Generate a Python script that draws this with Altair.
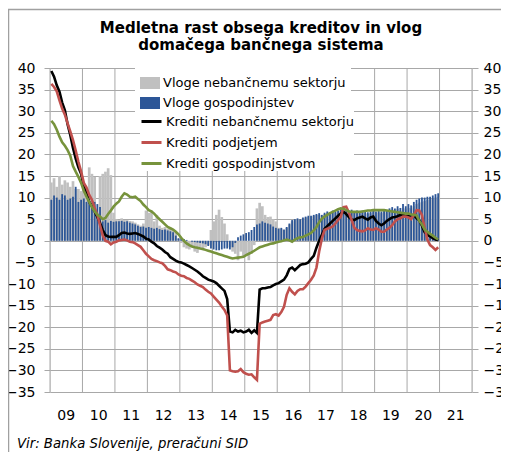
import altair as alt
import pandas as pd

# ---------------- data ----------------
title_lines = ["Medletna rast obsega kreditov in vlog", "domačega bančnega sistema"]
footer = "Vir: Banka Slovenije, preračuni SID"
start_year = 2009
year_labels = ["09", "10", "11", "12", "13", "14", "15", "16", "17", "18", "19", "20", "21"]
y_ticks = [-35, -30, -25, -20, -15, -10, -5, 0, 5, 10, 15, 20, 25, 30, 35, 40]

bar_names = ["Vloge nebančnemu sektorju", "Vloge gospodinjstev"]
line_names = ["Krediti nebančnemu sektorju", "Krediti podjetjem", "Krediti gospodinjstvom"]

# monthly, Jan 2009 - Dec 2020
vloge_nebancni = [
    13.5, 14.5, 12.5, 15.0, 13.0, 14.0, 13.5, 12.5, 13.8, 12.0, 12.0, 11.5,
    11.8, 12.0, 17.0, 15.5, 14.8, 6.5, 15.0, 15.5, 16.0, 16.8, 15.2, 6.5,
    5.0, 4.8, 5.2, 4.8, 4.8, 4.6, 4.5, 4.2, 3.8, 3.5, 4.0, 7.0,
    6.5, 7.0, 4.5, 6.0, 3.5, 3.0, 3.2, 2.8, 3.0, 2.5, 2.0, 0.5,
    -0.5, -1.5, -1.8, -2.0, -1.5, -2.5, -2.8, -1.8, -2.2, -1.5, -1.0, 2.5,
    4.5, 6.0, 7.2, 5.5, 4.0, 1.5, -1.5, -2.5, -3.0, -4.5, -2.5, -3.8,
    -3.5, -4.5, -3.0, -1.0, 7.5, 8.8, 8.0, 6.0, 5.5, 5.6, 5.0, 4.5,
    3.0, 2.8, 2.5, 3.0, 3.8, 4.5, 4.8, 5.0, 4.8, 5.2, 5.4, 5.5,
    5.5, 5.8, 6.0, 6.0, 5.8, 6.2, 6.5, 6.3, 6.6, 6.5, 6.8, 7.0,
    7.0, 6.8, 6.6, 6.8, 6.5, 6.6, 6.3, 6.6, 6.4, 6.2, 6.4, 6.6,
    6.4, 6.6, 6.4, 6.8, 6.6, 7.0, 7.2, 7.0, 7.4, 7.0, 7.6, 7.4,
    7.6, 7.5, 8.0, 8.5, 8.8, 9.0, 9.2, 9.5, 9.6, 9.8, 10.0, 10.2,
]
vloge_gospodinjstev = [
    9.5, 10.5, 10.0, 9.5, 10.8, 10.5, 9.5, 9.8, 10.2, 12.5, 9.0, 9.5,
    9.8, 9.0, 9.2, 8.8, 9.0, 8.5, 7.8, 4.5, 4.8, 4.2, 4.6, 4.4,
    4.5, 4.5, 4.6, 4.4, 4.5, 4.2, 4.0, 3.8, 3.5, 3.2, 3.3, 3.0,
    3.2, 3.0, 2.8, 3.0, 2.7, 2.5, 2.6, 2.4, 2.2, 2.0, 1.2, 0.6,
    0.6, 0.4, 0.2, 0.0, -0.2, -0.3, -0.4, -0.5, -0.6, -0.8, -1.2, -1.8,
    -2.0, -2.2, -2.2, -2.0, -1.8, -1.8, -2.0, -1.5, -0.5, 0.8, 1.2, 1.5,
    1.8, 2.0, 2.5, 3.2, 3.8, 4.0, 4.5, 4.2, 4.0, 3.8, 3.3, 3.0,
    2.8, 3.0, 2.6, 3.2, 4.0, 4.8, 5.0, 5.2, 5.0, 5.4, 5.6, 5.8,
    5.8, 6.0, 6.2, 6.4, 6.0, 6.5, 6.8, 6.6, 7.0, 6.8, 7.0, 7.2,
    7.5, 7.2, 7.0, 7.2, 6.8, 7.0, 6.6, 7.0, 6.8, 6.6, 6.8, 7.0,
    6.8, 7.0, 6.8, 7.2, 7.0, 7.5, 7.8, 7.5, 8.0, 7.6, 8.5, 8.0,
    8.5, 8.2, 9.0, 9.5, 9.8, 10.0, 10.0, 10.2, 10.2, 10.5, 10.8, 11.0,
]
krediti_nebancni = [
    39.3, 38.0, 36.0, 34.5, 32.0, 30.2, 27.0, 24.5, 21.5, 19.0, 17.0, 15.5,
    12.5, 11.0, 9.0, 8.0, 6.8, 5.5, 4.1, 2.5, 1.3, 1.0, 0.9, 0.9,
    0.9, 1.3, 1.8, 1.9, 1.7, 1.6, 1.7, 1.8, 1.6, 1.3, 1.0, 0.5,
    0.3, -0.2, -0.6, -1.2, -1.6, -2.0, -2.6, -3.0, -3.8, -4.2, -4.6, -4.9,
    -5.0, -5.3, -5.6, -5.9, -6.3, -6.7, -7.1, -7.6, -8.2, -8.6, -9.0, -9.2,
    -9.4, -9.8, -10.4, -11.0, -11.6, -13.5, -21.0, -21.2, -20.6, -21.0, -20.8, -21.2,
    -21.0, -20.6, -21.3, -20.7, -21.3, -11.3, -11.0, -11.0, -10.8, -10.7, -10.3, -10.0,
    -9.8, -9.4, -9.0, -8.0, -6.5, -6.2, -6.8, -6.2, -5.6, -5.4, -5.3, -5.0,
    -4.2, -3.5, -1.6, 0.0, 1.4, 2.8, 3.4, 4.0, 4.6, 5.2, 5.8, 6.3,
    6.7, 6.2, 5.5, 4.9, 4.8, 5.2, 5.4, 5.6, 5.2, 4.9, 5.4, 5.6,
    4.6, 4.0, 3.6, 4.0, 4.6, 5.0, 5.4, 5.5, 5.7, 6.0, 6.0, 5.7,
    5.8, 5.9, 6.0, 5.2, 4.8, 3.5, 2.0, 1.4, 1.0, 0.6, 0.3, 0.2,
]
krediti_podjetjem = [
    36.3, 35.6, 34.6, 32.5, 30.6, 29.2, 27.2, 25.3, 23.3, 20.9, 18.3, 16.0,
    13.4, 12.3, 10.6, 9.5, 7.6, 6.0, 3.6, 1.2, 0.0, -0.2, -0.8, -0.4,
    -0.2, 0.1, 0.2, 0.3, 0.1, -0.2, -0.3, -0.6, -1.0, -1.4, -2.2, -3.0,
    -3.6, -4.2, -4.5, -4.7, -5.0, -5.2, -5.8, -6.6, -6.8, -7.1, -7.3, -7.8,
    -8.1, -8.2, -8.6, -8.8, -9.2, -9.6, -10.1, -10.4, -10.7, -11.3, -11.8, -12.2,
    -12.9, -13.6, -14.3, -15.2, -16.0, -17.3, -30.0, -30.2, -30.3, -30.2, -29.7, -30.4,
    -30.8, -31.0, -30.9, -31.6, -32.2, -19.2, -18.9, -18.7, -18.5, -18.3, -17.2, -17.0,
    -17.3, -16.5, -15.3, -12.5, -11.0, -11.8, -12.4, -11.6, -11.2, -11.2, -10.6, -9.8,
    -9.0, -8.0, -6.2, -2.5, 0.5, 2.5, 2.8, 3.0, 3.3, 4.0, 4.8, 5.6,
    7.8, 7.9, 6.5, 4.8, 3.0, 2.5, 2.3, 2.2, 2.4, 2.9, 2.6, 2.5,
    2.9, 2.6, 2.1, 2.1, 2.6, 3.0, 3.6, 4.5, 5.0, 5.2, 5.6, 5.6,
    5.4, 5.0, 6.0, 7.1, 7.0, 6.0, 3.0, 0.3, -1.0, -1.5, -2.1, -1.5,
]
krediti_gospodinjstvom = [
    27.8, 27.0, 25.7, 24.1, 22.8, 22.0, 21.0, 19.7, 17.3, 16.0, 14.8, 13.4,
    11.6, 10.2, 9.0, 7.8, 6.8, 6.0, 5.6, 5.0, 5.3, 6.2, 7.0, 7.9,
    8.6, 9.1, 10.2, 11.0, 10.7, 10.2, 10.1, 10.2, 9.7, 9.2, 8.4, 7.8,
    7.1, 6.8, 6.3, 5.6, 5.0, 4.4, 3.8, 3.2, 2.9, 2.6, 2.1, 1.5,
    0.7, 0.0, -0.6, -1.0, -1.3, -1.5, -1.6, -1.8, -1.9, -2.1, -2.3, -2.5,
    -2.7, -2.9, -3.1, -3.3, -3.5, -3.7, -3.9, -4.1, -4.0, -3.9, -3.8, -3.7,
    -3.3, -3.0, -2.7, -2.3, -1.9, -1.5, -1.3, -1.1, -0.9, -0.7, -0.6, -0.4,
    -0.2, -0.1, 0.1, 0.3, 0.1, -0.2, 0.3, 0.6, 0.8, 0.9, 1.2, 1.5,
    1.8, 2.4, 3.2, 4.3, 5.1, 5.6, 6.0, 6.4, 6.7, 7.0, 7.3, 7.5,
    7.4, 7.1, 6.8, 6.7, 6.7, 6.7, 6.7, 6.8, 6.9, 7.0, 7.0, 7.1,
    7.1, 7.1, 7.1, 7.1, 7.0, 6.9, 6.8, 6.7, 6.6, 6.5, 6.4, 6.3,
    6.3, 6.1, 6.0, 5.9, 4.6, 3.8, 2.6, 2.1, 1.6, 1.2, 0.7, 0.3,
]

# ---------------- tables ----------------
n = len(krediti_nebancni)
t = [start_year + (i + 0.5) / 12 for i in range(n)]

bars = pd.concat([
    pd.DataFrame({"t": t, "v": vloge_nebancni, "series": bar_names[0]}),
    pd.DataFrame({"t": t, "v": vloge_gospodinjstev, "series": bar_names[1]}),
])
lines = pd.concat([
    pd.DataFrame({"t": t, "v": krediti_nebancni, "series": line_names[0]}),
    pd.DataFrame({"t": t, "v": krediti_podjetjem, "series": line_names[1]}),
    pd.DataFrame({"t": t, "v": krediti_gospodinjstvom, "series": line_names[2]}),
])
grid_years = pd.DataFrame({"yr": list(range(start_year, start_year + len(year_labels) + 1))})
xlabels = pd.DataFrame({"pos": [start_year + i + 0.5 for i in range(len(year_labels))],
                        "lab": year_labels})

FONT = "DejaVu Sans"
GRID = "#a8a8a8"
W, H = 422, 324
xscale = alt.Scale(domain=[start_year, start_year + len(year_labels)], nice=False,
                   zero=False, padding=0)
yscale = alt.Scale(domain=[-35, 40], nice=False, zero=False)

y_left = alt.Axis(values=y_ticks, grid=True, gridColor=GRID, gridWidth=1, domain=False,
                  tickColor=GRID, tickSize=6, labelPadding=9, labelFont=FONT,
                  labelFontSize=14, labelColor="black", title=None)
y_right = alt.Axis(values=y_ticks, orient="right", grid=False, domain=False,
                   tickColor=GRID, tickSize=6, labelPadding=5, labelFont=FONT,
                   labelFontSize=14, labelColor="black", title=None)

cscale = alt.Scale(domain=bar_names, range=["#c0c0c0", "#2c5697"])
sscale = alt.Scale(domain=line_names, range=["#000000", "#c0504d", "#77933c"])

leg_bars = alt.Legend(orient="none", legendX=85, legendY=0, title=None,
                      symbolType="M-1,-0.6H1V0.6H-1Z", symbolSize=400,
                      symbolStrokeWidth=0, labelFont=FONT, labelFontSize=13,
                      labelColor="black", labelOffset=3, rowPadding=3,
                      fillColor="white", padding=5, labelLimit=300)
leg_lines = alt.Legend(orient="none", legendX=90, legendY=42, title=None,
                       symbolType="stroke", symbolSize=400, symbolStrokeWidth=3,
                       labelFont=FONT, labelFontSize=13, labelColor="black",
                       labelOffset=3, rowPadding=2, fillColor="white",
                       padding=0, labelLimit=300)

rules = alt.Chart(grid_years).mark_rule(color=GRID, strokeWidth=1).encode(
    x=alt.X("yr:Q", scale=xscale, axis=None)
)

gray_bars = alt.Chart(bars).transform_filter(
    alt.datum.series == bar_names[0]
).mark_bar(size=2.7).encode(
    x=alt.X("t:Q", scale=xscale, axis=None),
    y=alt.Y("v:Q", scale=yscale, axis=y_left),
    color=alt.Color("series:N", scale=cscale, legend=leg_bars),
)
blue_bars = alt.Chart(bars).transform_filter(
    alt.datum.series == bar_names[1]
).mark_bar(size=1.8).encode(
    x=alt.X("t:Q", scale=xscale, axis=None),
    y=alt.Y("v:Q", scale=yscale, axis=None),
    color=alt.Color("series:N", scale=cscale, legend=leg_bars),
)

def line_layer(name, axis):
    return alt.Chart(lines).transform_filter(
        alt.datum.series == name
    ).mark_line(strokeWidth=2.6).encode(
        x=alt.X("t:Q", scale=xscale, axis=None),
        y=alt.Y("v:Q", scale=yscale, axis=axis),
        stroke=alt.Stroke("series:N", scale=sscale, legend=leg_lines),
    )

black_line = line_layer(line_names[0], y_right)
red_line = line_layer(line_names[1], None)
green_line = line_layer(line_names[2], None)

# year labels centred in each year band
xlab = alt.Chart(xlabels).mark_text(
    font=FONT, fontSize=14, color="black", baseline="middle", align="center"
).encode(x=alt.X("pos:Q", scale=xscale, axis=None), y=alt.value(H + 24), text="lab:N")

# title (two lines) and source note
title_df = pd.DataFrame({"txt": title_lines, "row": [0, 1]})
title = alt.Chart(title_df).mark_text(
    font=FONT, fontSize=15, fontWeight="bold", color="black", align="center",
    baseline="middle", dy=-40.5
).encode(text="txt:N", x=alt.value(W / 2),
         y=alt.Y("row:Q", scale=alt.Scale(domain=[0, 1], range=[0, 17.5]), axis=None))

foot = alt.Chart(pd.DataFrame({"txt": [footer]})).mark_text(
    align="left", baseline="middle", font=FONT, fontStyle="italic", fontSize=13.25, color="black"
).encode(text="txt:N", x=alt.value(-33), y=alt.value(376))

frame_left = alt.Chart(pd.DataFrame({"a": [0]})).mark_rule(color="#a0a0a0", strokeWidth=1.5).encode(
    x=alt.value(-41.5), y=alt.value(-59), y2=alt.value(384)
)
frame_top = alt.Chart(pd.DataFrame({"a": [0]})).mark_rule(color="#a0a0a0", strokeWidth=1.5).encode(
    x=alt.value(-42), x2=alt.value(460), y=alt.value(-58.5)
)

chart = alt.layer(
    rules, gray_bars, blue_bars, black_line, red_line, green_line,
    xlab, title, foot, frame_left, frame_top
).resolve_scale(y="independent").properties(
    width=W, height=H,
    autosize=alt.AutoSizeParams(type="none"),
    padding={"left": 42, "top": 60, "right": 29, "bottom": 60},
).configure_view(stroke=None).configure(background="white")

chart.save("out.html", embed_options={"renderer": "svg", "actions": False})
